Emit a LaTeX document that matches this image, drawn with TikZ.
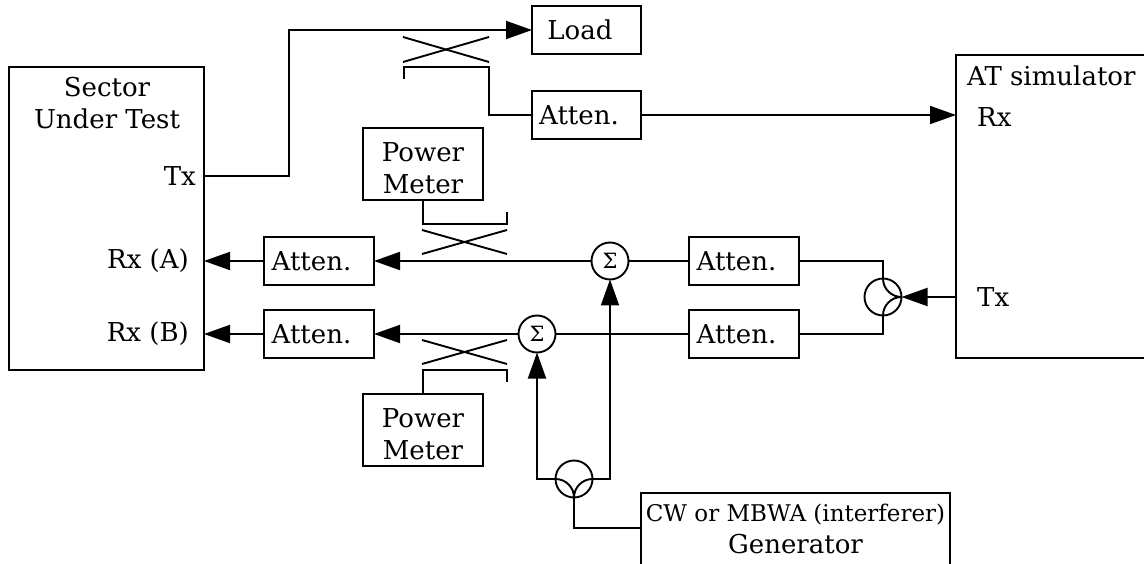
\documentclass[tikz,border=0pt]{standalone}
\usepackage{fontspec}
\setmainfont{DejaVu Serif}
\usetikzlibrary{arrows.meta}
\tikzset{
  x=1pt,y=-1pt,
  wire/.style={line width=1.9pt,line join=miter},
  arrowwire/.style={wire,-{Triangle[length=26pt,width=18pt]}},
  blockbox/.style={draw,line width=1.9pt,inner sep=0pt,outer sep=0pt,anchor=north west,align=center,font=\fontsize{26}{32}\selectfont},
  lbl/.style={inner sep=0pt,font=\fontsize{26}{30}\selectfont},
  sumnode/.style={draw,circle,line width=1.9pt,minimum size=37pt,inner sep=0pt,outer sep=0pt,font=\fontsize{21}{24}\selectfont},
  splitnode/.style={draw,circle,line width=1.9pt,minimum size=37pt,inner sep=0pt,outer sep=0pt},
}
\newcommand{\blockat}[6]{\node[blockbox,minimum width=#4pt,minimum height=#5pt] (#1) at (#2,#3) {#6};}
\begin{document}
\begin{tikzpicture}
\useasboundingbox (0,0) rectangle (1144,564);
\blockat{sector}{9}{67}{195}{303}{}
\blockat{load}{532}{6}{109}{48}{Load\hspace{13pt}}
\blockat{attT}{532}{91}{109}{48}{Atten.\hspace{15pt}}
\blockat{at}{956}{55}{190}{303}{}
\blockat{pmT}{363}{128}{120}{72}{\rule{0pt}{27pt}Power\\Meter}
\blockat{pmB}{363}{394}{120}{72}{\rule{0pt}{27pt}Power\\Meter}
\blockat{attA}{264}{237}{110}{48}{Atten.\hspace{15pt}}
\blockat{attB}{264}{310}{110}{48}{Atten.\hspace{15pt}}
\blockat{attC}{689}{237}{110}{48}{Atten.\hspace{15pt}}
\blockat{attD}{689}{310}{110}{48}{Atten.\hspace{15pt}}
\blockat{gen}{641}{493}{309}{72}{\fontsize{23}{32}\selectfont CW or MBWA (interferer)\\Generator}
\node[lbl] (t1) at (107,87) {Sector};
\node[lbl] (t2) at (107,119) {Under Test};
\node[lbl,anchor=east] (tx) at (196,176) {Tx};
\node[lbl,anchor=east] (rxa) at (189,261) {Rx (A)};
\node[lbl,anchor=east] (rxb) at (189,334) {Rx (B)};
\node[lbl,anchor=west] (t3) at (967,76) {AT simulator};
\node[lbl,anchor=west] (rx2) at (977,117) {Rx};
\node[lbl,anchor=west] (tx2) at (977,297) {Tx};
\node[sumnode] (s1) at (610,261) {Σ};
\node[sumnode] (s2) at (537,334) {Σ};
\node[splitnode] (sp1) at (574,479) {};
\node[splitnode] (sp2) at (883,297) {};
\draw[arrowwire] (sector.east |- 0,176) -- (289,176) -- (289,30) -- (load.west);
\draw[wire] (403,37) -- (489,62);
\draw[wire] (403,62) -- (489,37);
\draw[wire] (404,79) -- (404,67) -- (489,67) -- (489,115) -- (attT.west);
\draw[arrowwire] (attT.east) -- (at.west |- attT.east);
\draw[wire] (pmT.south) -- (423,224) -- (507,224) -- (507,212);
\draw[wire] (422,230) -- (507,254);
\draw[wire] (422,254) -- (507,230);
\draw[wire] (pmB.north) -- (423,370) -- (507,370) -- (507,382);
\draw[wire] (422,340) -- (507,364);
\draw[wire] (422,364) -- (507,340);
\draw[arrowwire] (attA.west) -- (sector.east |- attA.west);
\draw[arrowwire] (attB.west) -- (sector.east |- attB.west);
\draw[arrowwire] (s1.west) -- (attA.east);
\draw[arrowwire] (s2.west) -- (attB.east);
\draw[wire] (s1.east) -- (attC.west);
\draw[wire] (s2.east) -- (attD.west);
\draw[wire] (attC.east) -- (883,261) -- (sp2.north) arc[start angle=180,end angle=90,radius=18.5];
\draw[wire] (attD.east) -- (883,334) -- (sp2.south) arc[start angle=180,end angle=270,radius=18.5];
\draw[arrowwire] (at.west |- sp2.east) -- (sp2.east);
\draw[arrowwire] (sp1.west) -- (537,479) -- (s2.south);
\draw[arrowwire] (sp1.east) -- (610,479) -- (s1.south);
\draw[wire] (gen.west |- 0,528) -- (574,528) -- (sp1.south);
\draw[wire] (sp1.west) arc[start angle=270,end angle=360,radius=18.5];
\draw[wire] (sp1.east) arc[start angle=270,end angle=180,radius=18.5];
\end{tikzpicture}
\end{document}
